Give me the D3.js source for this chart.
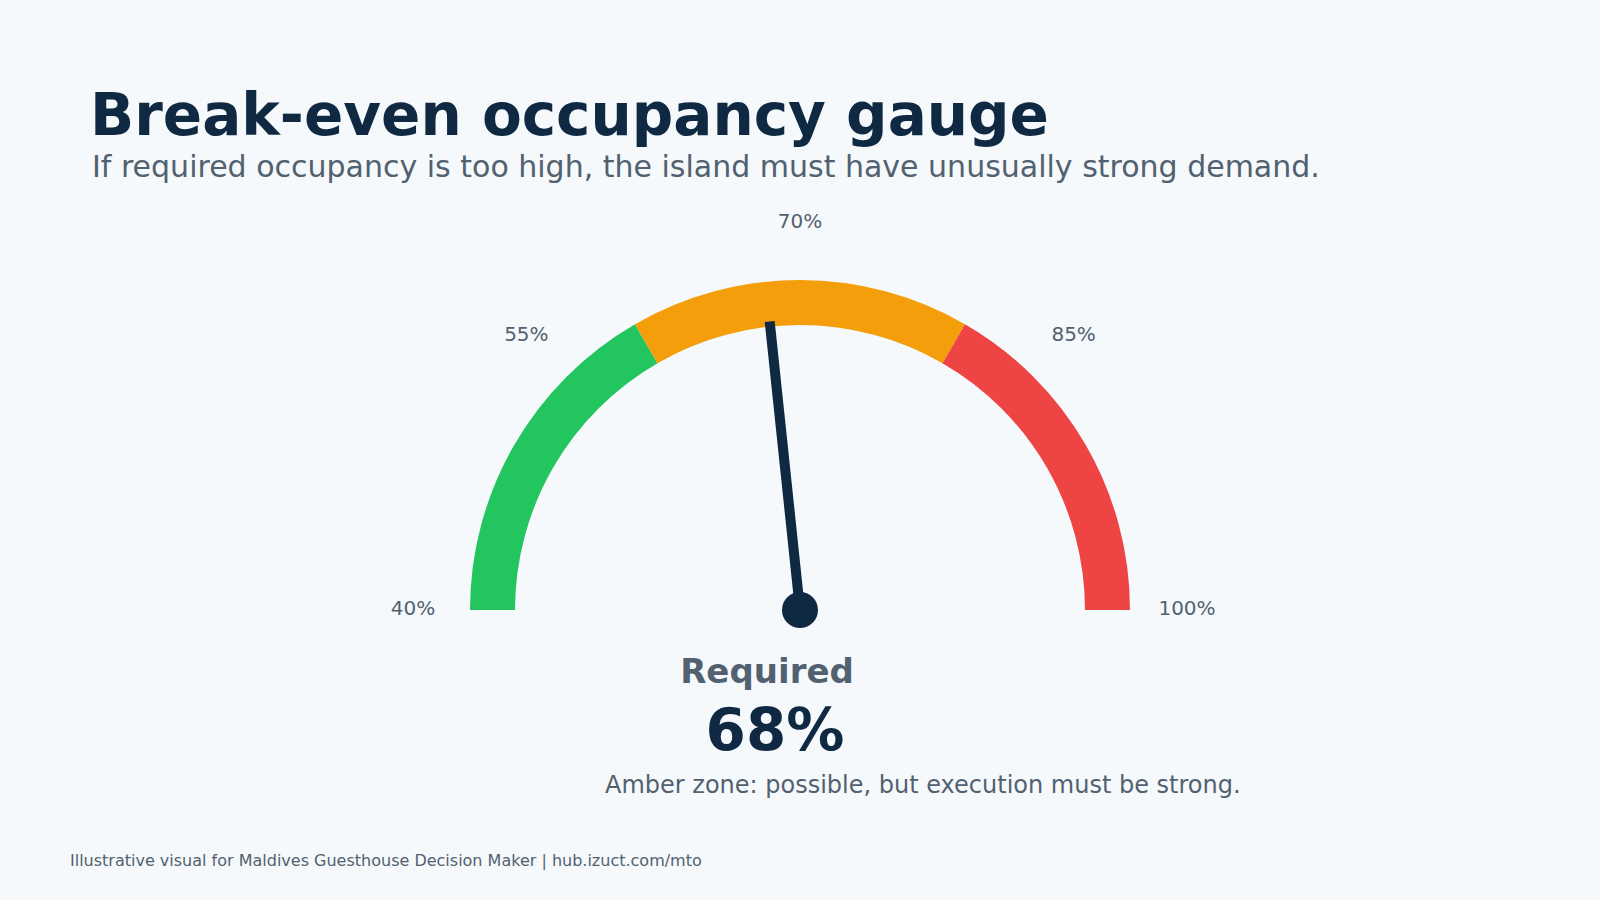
<!DOCTYPE html>
<html>
<head>
<meta charset="utf-8">
<script src="https://cdn.jsdelivr.net/npm/d3@7"></script>
<style>
  html, body { margin: 0; padding: 0; background: #f5f9fc; }
  svg { display: block; font-family: "DejaVu Sans", sans-serif; }
</style>
</head>
<body>
<svg id="chart" width="1600" height="900"></svg>
<script>
// ---- data ----
const zoneNames = ["Green", "Amber", "Red"];
const zoneStarts = [40, 60, 80];
const zoneEnds = [60, 80, 100];
const zoneColors = ["#22c55e", "#f59e0b", "#ef4444"];
const tickValues = [40, 55, 70, 85, 100];
const tickLabels = ["40%", "55%", "70%", "85%", "100%"];
const requiredValue = 68;
const requiredLabel = "68%";
const titleText = "Break-even occupancy gauge";
const subtitleText = "If required occupancy is too high, the island must have unusually strong demand.";
const noteText = "Amber zone: possible, but execution must be strong.";
const footerText = "Illustrative visual for Maldives Guesthouse Decision Maker | hub.izuct.com/mto";

// ---- layout ----
const W = 1600, H = 900;
const cx = 800, cy = 610;
const outerR = 330, innerR = 285, labelR = 387, needleLen = 290;
const navy = "#0f2942", gray = "#52616f";

const svg = d3.select("#chart");
svg.append("rect").attr("width", W).attr("height", H).attr("fill", "#f5f9fc");

const angle = d3.scaleLinear().domain([40, 100]).range([-Math.PI / 2, Math.PI / 2]);

svg.append("text").attr("x", 90).attr("y", 135)
  .attr("font-size", 58).attr("font-weight", "bold").attr("fill", navy).text(titleText);
svg.append("text").attr("x", 92).attr("y", 177)
  .attr("font-size", 30).attr("fill", gray).text(subtitleText);

const g = svg.append("g").attr("transform", `translate(${cx},${cy})`);

const arc = d3.arc().innerRadius(innerR).outerRadius(outerR);
const zones = zoneNames.map((n, i) => ({ name: n, start: zoneStarts[i], end: zoneEnds[i], color: zoneColors[i] }));
g.selectAll("path.zone").data(zones).join("path")
  .attr("class", "zone")
  .attr("d", d => arc({ startAngle: angle(d.start), endAngle: angle(d.end) }))
  .attr("fill", d => d.color);

g.selectAll("text.tick").data(tickValues).join("text")
  .attr("class", "tick")
  .attr("x", d => labelR * Math.sin(angle(d)))
  .attr("y", d => -labelR * Math.cos(angle(d)) - 2)
  .attr("text-anchor", "middle")
  .attr("dominant-baseline", "central")
  .attr("font-size", 20)
  .attr("fill", gray)
  .text((d, i) => tickLabels[i]);

const a = angle(requiredValue);
g.append("line")
  .attr("x1", 0).attr("y1", 0)
  .attr("x2", needleLen * Math.sin(a)).attr("y2", -needleLen * Math.cos(a))
  .attr("stroke", navy).attr("stroke-width", 10).attr("stroke-linecap", "butt");
g.append("circle").attr("r", 18).attr("fill", navy);

svg.append("text").attr("x", 767).attr("y", 683).attr("text-anchor", "middle")
  .attr("font-size", 34).attr("font-weight", "bold").attr("fill", gray).text("Required");
svg.append("text").attr("x", 775).attr("y", 750).attr("text-anchor", "middle")
  .attr("font-size", 58).attr("font-weight", "bold").attr("fill", navy).text(requiredLabel);
svg.append("text").attr("x", 605).attr("y", 793)
  .attr("font-size", 24).attr("fill", gray).text(noteText);

svg.append("text").attr("x", 70).attr("y", 866)
  .attr("font-size", 16).attr("fill", gray).text(footerText);
</script>
</body>
</html>
